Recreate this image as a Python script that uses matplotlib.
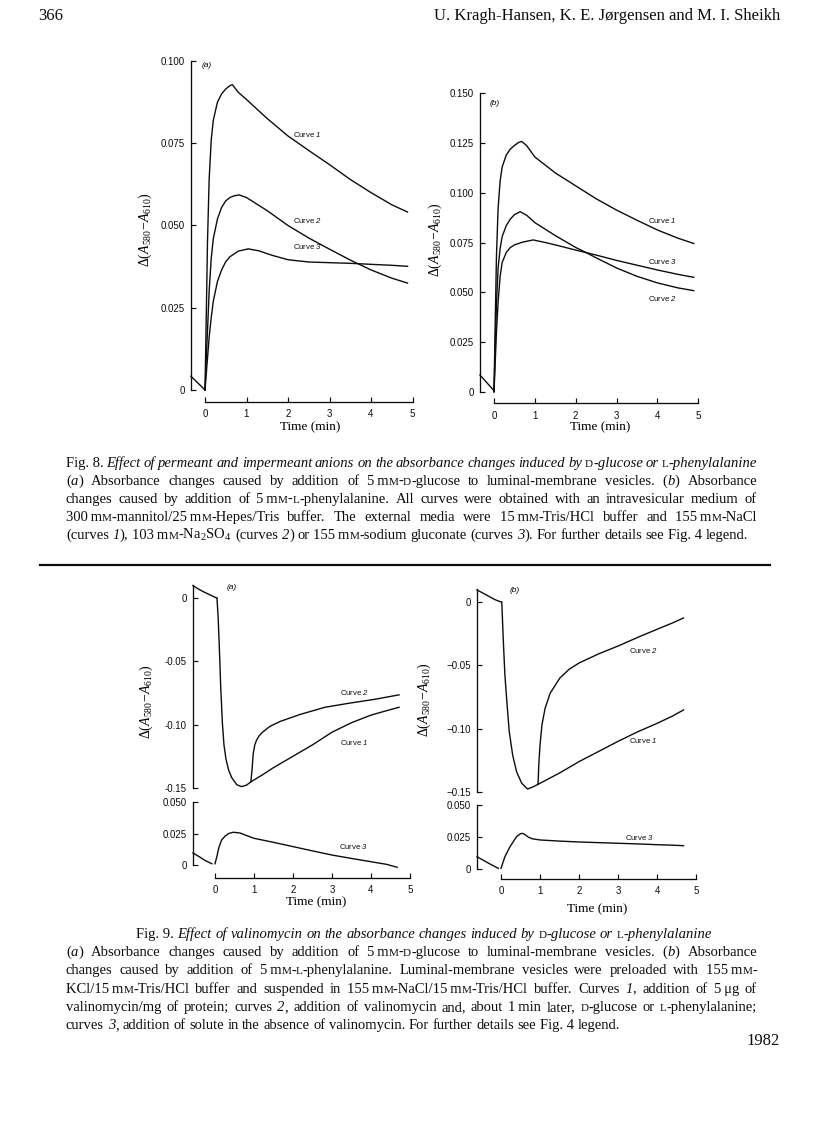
import matplotlib
matplotlib.use("Agg")
import matplotlib.pyplot as plt
from matplotlib.lines import Line2D

W, H = 816, 1136

plt.rcParams['font.family'] = 'Liberation Sans'
plt.rcParams['mathtext.fontset'] = 'custom'
plt.rcParams['mathtext.rm'] = 'Liberation Serif'
plt.rcParams['mathtext.it'] = 'Liberation Serif:italic'
plt.rcParams['mathtext.bf'] = 'Liberation Serif:bold'
plt.rcParams['mathtext.sf'] = 'Liberation Sans:italic'

# ---------------- Fig. 8 data (time in min, absorbance change) ----------------
f8a_pre_t = [-0.34, 0.0]
f8a_pre_v = [0.0042, 0.0]
f8a_c1_t = [0, 0.03, 0.06, 0.1, 0.15, 0.2, 0.3, 0.4, 0.5, 0.6, 0.66, 0.8, 1.0, 1.5, 2.0, 2.5, 3.0, 3.5, 4.0, 4.5, 4.88]
f8a_c1_v = [0, 0.022, 0.045, 0.064, 0.076, 0.082, 0.0875, 0.0900, 0.0915, 0.0925, 0.0928, 0.0905, 0.0883,
            0.0825, 0.0772, 0.0728, 0.0685, 0.0640, 0.0600, 0.0563, 0.0541]
f8a_c2_t = [0, 0.05, 0.1, 0.15, 0.2, 0.3, 0.4, 0.5, 0.6, 0.7, 0.82, 1.0, 1.5, 2.0, 2.5, 3.0, 3.5, 4.0, 4.5, 4.88]
f8a_c2_v = [0, 0.015, 0.03, 0.040, 0.046, 0.052, 0.0555, 0.0575, 0.0585, 0.059, 0.0593, 0.0585, 0.0545,
            0.0500, 0.0462, 0.0428, 0.0395, 0.0365, 0.0340, 0.0325]
f8a_c3_t = [0, 0.05, 0.1, 0.15, 0.2, 0.3, 0.4, 0.5, 0.6, 0.8, 1.04, 1.3, 1.6, 2.0, 2.5, 3.0, 3.5, 4.0, 4.5, 4.88]
f8a_c3_v = [0, 0.008, 0.016, 0.022, 0.027, 0.033, 0.0365, 0.039, 0.0405, 0.0422, 0.0429, 0.0423, 0.0410,
            0.0396, 0.0389, 0.0387, 0.0385, 0.0382, 0.0379, 0.0376]

f8b_pre_t = [-0.343, 0.0]
f8b_pre_v = [0.0084, 0.0005]
f8b_c1_t = [0, 0.03, 0.06, 0.1, 0.15, 0.2, 0.3, 0.4, 0.5, 0.6, 0.68, 0.8, 1.0, 1.5, 2.0, 2.5, 3.0, 3.5, 4.0, 4.5, 4.89]
f8b_c1_v = [0, 0.035, 0.068, 0.092, 0.106, 0.113, 0.119, 0.122, 0.1238, 0.1253, 0.1258, 0.1237, 0.1180,
            0.1100, 0.1035, 0.0970, 0.0913, 0.0862, 0.0813, 0.0772, 0.0745]
f8b_c2_t = [0, 0.03, 0.06, 0.1, 0.15, 0.2, 0.3, 0.4, 0.5, 0.64, 0.8, 1.0, 1.5, 2.0, 2.25, 2.5, 3.0, 3.5, 4.0, 4.5, 4.89]
f8b_c2_v = [0, 0.022, 0.044, 0.062, 0.072, 0.078, 0.0835, 0.0868, 0.0890, 0.0905, 0.0887, 0.0850, 0.0785,
            0.0725, 0.0700, 0.0673, 0.0622, 0.0580, 0.0547, 0.0522, 0.0508]
f8b_c3_t = [0, 0.03, 0.06, 0.1, 0.15, 0.2, 0.3, 0.4, 0.5, 0.7, 0.96, 1.3, 1.6, 2.0, 2.5, 3.0, 3.5, 4.0, 4.5, 4.89]
f8b_c3_v = [0, 0.015, 0.03, 0.045, 0.058, 0.065, 0.070, 0.0725, 0.0738, 0.0752, 0.0763, 0.0748, 0.0733,
            0.0712, 0.0687, 0.0660, 0.0636, 0.0612, 0.0590, 0.0575]

# ---------------- Fig. 9 data ----------------
f9a_pre_t = [-0.564, -0.45, -0.3, -0.15, 0.04]
f9a_pre_v = [0.0098, 0.0075, 0.0050, 0.0028, 0.0]
f9a_drop_t = [0.05, 0.08, 0.11, 0.146, 0.19, 0.23, 0.28, 0.35, 0.43, 0.56, 0.68, 0.81, 0.92]
f9a_drop_v = [0, -0.015, -0.038, -0.070, -0.099, -0.116, -0.127, -0.136, -0.142, -0.1475, -0.149, -0.1478, -0.1452]
f9a_c1_t = [0.92, 1.2, 1.5, 2.0, 2.5, 3.0, 3.5, 4.0, 4.4, 4.72]
f9a_c1_v = [-0.1452, -0.140, -0.134, -0.125, -0.116, -0.106, -0.0985, -0.0925, -0.089, -0.0863]
f9a_c2_t = [0.92, 0.95, 0.98, 1.02, 1.07, 1.13, 1.2, 1.3, 1.41, 1.67, 2.18, 2.82, 3.46, 4.1, 4.72]
f9a_c2_v = [-0.1452, -0.1355, -0.123, -0.116, -0.112, -0.109, -0.1065, -0.104, -0.1014, -0.0975,
            -0.092, -0.0863, -0.083, -0.080, -0.0765]
f9a_low_pre_t = [-0.564, -0.4, -0.25, -0.08]
f9a_low_pre_v = [0.0095, 0.0065, 0.0035, 0.001]
f9a_c3_t = [0.0, 0.05, 0.1, 0.17, 0.26, 0.35, 0.47, 0.64, 0.8, 1.0, 1.5, 2.0, 2.5, 3.0, 3.5, 4.0, 4.4, 4.67]
f9a_c3_v = [0.001, 0.007, 0.014, 0.0198, 0.023, 0.025, 0.026, 0.0254, 0.0235, 0.0212, 0.018, 0.0146,
            0.0112, 0.0079, 0.0052, 0.0026, 0.0005, -0.0018]

f9b_pre_t = [-0.615, -0.45, -0.3, -0.15, 0.0]
f9b_pre_v = [0.0095, 0.0068, 0.0043, 0.0018, 0.0]
f9b_drop_t = [0.02, 0.06, 0.1, 0.15, 0.21, 0.3, 0.4, 0.53, 0.68, 0.83, 0.95]
f9b_drop_v = [0, -0.031, -0.0576, -0.0787, -0.102, -0.121, -0.134, -0.143, -0.1476, -0.1458, -0.1439]
f9b_c1_t = [0.95, 1.5, 2.0, 2.5, 3.0, 3.5, 4.0, 4.4, 4.68]
f9b_c1_v = [-0.1439, -0.135, -0.126, -0.118, -0.110, -0.1025, -0.0958, -0.090, -0.0852]
f9b_c2_t = [0.95, 0.97, 1.0, 1.05, 1.13, 1.26, 1.51, 1.75, 2.01, 2.5, 3.02, 3.5, 4.02, 4.4, 4.68]
f9b_c2_v = [-0.1439, -0.128, -0.113, -0.097, -0.084, -0.072, -0.060, -0.053, -0.048, -0.041, -0.0345,
            -0.028, -0.0213, -0.0165, -0.0126]
f9b_low_pre_t = [-0.615, -0.45, -0.3, -0.15, -0.07]
f9b_low_pre_v = [0.0096, 0.0068, 0.0042, 0.0018, 0.0005]
f9b_c3_t = [0, 0.05, 0.1, 0.23, 0.4, 0.5, 0.56, 0.62, 0.7, 0.8, 1.0, 1.5, 2.0, 2.5, 3.0, 3.5, 4.0, 4.4, 4.68]
f9b_c3_v = [0.0005, 0.005, 0.0096, 0.0174, 0.0253, 0.0276, 0.0278, 0.0268, 0.0249, 0.0236, 0.0227, 0.0218,
            0.0211, 0.0206, 0.0201, 0.0196, 0.019, 0.0186, 0.0182]

# ticks
time_ticks = [0, 1, 2, 3, 4, 5]
f8a_yticks = [0, 0.025, 0.050, 0.075, 0.100]
f8a_ylabels = ['0', '0.025', '0.050', '0.075', '0.100']
f8b_yticks = [0, 0.025, 0.050, 0.075, 0.100, 0.125, 0.150]
f8b_ylabels = ['0', '0.025', '0.050', '0.075', '0.100', '0.125', '0.150']
f9_top_yticks = [0, -0.05, -0.10, -0.15]
f9a_top_ylabels = ['0', '-0.05', '-0.10', '-0.15']
f9b_top_ylabels = ['0', '\u22120.05', '\u22120.10', '\u22120.15']
f9_low_yticks = [0, 0.025, 0.050]
f9_low_ylabels = ['0', '0.025', '0.050']

# curve labels: (text, t, value)
f8a_names = [('Curve $\\mathsf{1}$', 2.13, 0.0777), ('Curve $\\mathsf{2}$', 2.13, 0.0516), ('Curve $\\mathsf{3}$', 2.13, 0.0437)]
f8b_names = [('Curve $\\mathsf{1}$', 3.77, 0.0863), ('Curve $\\mathsf{3}$', 3.77, 0.0654), ('Curve $\\mathsf{2}$', 3.77, 0.0469)]
f9a_top_names = [('Curve $\\mathsf{2}$', 3.2, -0.0743), ('Curve $\\mathsf{1}$', 3.2, -0.114)]
f9a_low_names = [('Curve $\\mathsf{3}$', 3.18, 0.0143)]
f9b_top_names = [('Curve $\\mathsf{2}$', 3.27, -0.0379), ('Curve $\\mathsf{1}$', 3.27, -0.1095)]
f9b_low_names = [('Curve $\\mathsf{3}$', 3.17, 0.025)]

ylab = r'$\Delta(A_{580}\!-\!A_{610})$'

# caption markup: *...* italic, ^...^ small capitals
cap8 = [
    "Fig.\u00a08. *Effect of permeant and impermeant anions on the absorbance changes induced by* ^D^*-glucose or* ^L^*-phenylalanine*",
    "(*a*) Absorbance changes caused by addition of 5\u2009m^M^-^D^-glucose to luminal-membrane vesicles. (*b*) Absorbance",
    "changes caused by addition of 5\u2009m^M^-^L^-phenylalanine. All curves were obtained with an intravesicular medium of",
    "300\u2009m^M^-mannitol/25\u2009m^M^-Hepes/Tris buffer. The external media were 15\u2009m^M^-Tris/HCl buffer and 155\u2009m^M^-NaCl",
    "(curves *1*), 103\u2009m^M^-Na$_2$SO$_4$ (curves *2*) or 155\u2009m^M^-sodium gluconate (curves *3*). For further details see Fig.\u00a04 legend.",
]
cap9 = [
    "Fig.\u00a09. *Effect of valinomycin on the absorbance changes induced by* ^D^*-glucose or* ^L^*-phenylalanine*",
    "(*a*) Absorbance changes caused by addition of 5\u2009m^M^-^D^-glucose to luminal-membrane vesicles. (*b*) Absorbance",
    "changes caused by addition of 5\u2009m^M^-^L^-phenylalanine. Luminal-membrane vesicles were preloaded with 155\u2009m^M^-",
    "KCl/15\u2009m^M^-Tris/HCl buffer and suspended in 155\u2009m^M^-NaCl/15\u2009m^M^-Tris/HCl buffer. Curves *1*, addition of 5\u2009\u03bcg of",
    "valinomycin/mg of protein; curves *2*, addition of valinomycin and, about 1\u2009min later, ^D^-glucose or ^L^-phenylalanine;",
    "curves *3*, addition of solute in the absence of valinomycin. For further details see Fig.\u00a04 legend.",
]

LW = 1.0
INK = '#0d0d0d'
CAP_FS = 10.5
SMALL = 0.76


def panel(fig, t0, ppm, v0, ppu, xlim, ylim):
    left = t0 + xlim[0] * ppm
    right = t0 + xlim[1] * ppm
    top = v0 - ylim[1] * ppu
    bot = v0 - ylim[0] * ppu
    ax = fig.add_axes([left / W, 1 - bot / H, (right - left) / W, (bot - top) / H])
    ax.set_xlim(xlim)
    ax.set_ylim(ylim)
    ax.patch.set_alpha(0)
    for s in ['top', 'right']:
        ax.spines[s].set_visible(False)
    for s in ['left', 'bottom']:
        ax.spines[s].set_linewidth(0.95)
        ax.spines[s].set_color(INK)
    ax.tick_params(direction='in', length=3.5, width=0.85, labelsize=7, colors=INK)
    ax.tick_params(axis='y', pad=4.3)
    ax.tick_params(axis='x', pad=5.2)
    return ax


def time_axis(ax, outward, xlab_px):
    ax.spines['bottom'].set_position(('outward', outward))
    ax.spines['bottom'].set_bounds(0, 5)
    ax.set_xticks(time_ticks)
    ax.set_xticklabels([str(t) for t in time_ticks])
    ax.set_xlabel('Time (min)', family='Liberation Serif', fontsize=9.5)
    ax.xaxis.set_label_coords(xlab_px[0] / W, 1 - xlab_px[1] / H, transform=fig.transFigure)
    ax.xaxis.label.set_va('center')


def no_time_axis(ax):
    ax.spines['bottom'].set_visible(False)
    ax.set_xticks([])


def y_label(ax, pos):
    ax.set_ylabel(ylab, fontsize=10)
    ax.yaxis.set_label_coords(pos[0] / W, 1 - pos[1] / H, transform=fig.transFigure)
    ax.yaxis.label.set_va('center')


def names(ax, lst):
    for txt, t, v in lst:
        ax.text(t, v, txt, fontsize=5.6, ha='left', va='center', color=INK)


def curve(ax, t, v):
    ax.plot(t, v, color=INK, lw=LW, clip_on=False, solid_joinstyle='round')


fig = plt.figure(figsize=(W / 100, H / 100), dpi=100)
fig.patch.set_facecolor('white')

# ---- Fig. 8 (a)
ax = panel(fig, 205, 41.5, 390, 3290, (-0.34, 5.0), (0, 0.100))
for t, v in [(f8a_pre_t, f8a_pre_v), (f8a_c1_t, f8a_c1_v), (f8a_c2_t, f8a_c2_v), (f8a_c3_t, f8a_c3_v)]:
    curve(ax, t, v)
ax.set_yticks(f8a_yticks)
ax.set_yticklabels(f8a_ylabels)
time_axis(ax, 8.4, (310, 427))
y_label(ax, (145, 230))
names(ax, f8a_names)
ax.text(-0.08, 0.0985, '(a)', fontsize=6, style='italic', ha='left', va='center')

# ---- Fig. 8 (b)
ax = panel(fig, 494, 40.86, 391.7, 1989, (-0.343, 5.0), (0, 0.150))
for t, v in [(f8b_pre_t, f8b_pre_v), (f8b_c1_t, f8b_c1_v), (f8b_c2_t, f8b_c2_v), (f8b_c3_t, f8b_c3_v)]:
    curve(ax, t, v)
ax.set_yticks(f8b_yticks)
ax.set_yticklabels(f8b_ylabels)
time_axis(ax, 8.35, (600, 427))
y_label(ax, (435, 240))
names(ax, f8b_names)
ax.text(-0.1, 0.145, '(b)', fontsize=6, style='italic', ha='left', va='center')

# ---- Fig. 9 (a)
ax = panel(fig, 215, 39, 598, 1266, (-0.564, 5.0), (-0.15, 0.0105))
for t, v in [(f9a_pre_t, f9a_pre_v), (f9a_drop_t, f9a_drop_v), (f9a_c1_t, f9a_c1_v), (f9a_c2_t, f9a_c2_v)]:
    curve(ax, t, v)
no_time_axis(ax)
ax.set_yticks(f9_top_yticks)
ax.set_yticklabels(f9a_top_ylabels)
y_label(ax, (146, 702))
names(ax, f9a_top_names)
ax.text(0.3, 0.0085, '(a)', fontsize=6, style='italic', ha='left', va='center')

ax = panel(fig, 215, 39, 865, 1260, (-0.564, 5.0), (0, 0.050))
for t, v in [(f9a_low_pre_t, f9a_low_pre_v), (f9a_c3_t, f9a_c3_v)]:
    curve(ax, t, v)
ax.set_yticks(f9_low_yticks)
ax.set_yticklabels(f9_low_ylabels)
ax.spines['left'].set_bounds(0, 0.05)
time_axis(ax, 9.4, (316, 902))
names(ax, f9a_low_names)

# ---- Fig. 9 (b)
ax = panel(fig, 501, 39, 602, 1267, (-0.615, 5.0), (-0.15, 0.0105))
for t, v in [(f9b_pre_t, f9b_pre_v), (f9b_drop_t, f9b_drop_v), (f9b_c1_t, f9b_c1_v), (f9b_c2_t, f9b_c2_v)]:
    curve(ax, t, v)
no_time_axis(ax)
ax.set_yticks(f9_top_yticks)
ax.set_yticklabels(f9b_top_ylabels)
y_label(ax, (424, 700))
names(ax, f9b_top_names)
ax.text(0.23, 0.0092, '(b)', fontsize=6, style='italic', ha='left', va='center')

ax = panel(fig, 501, 39, 869, 1280, (-0.615, 5.0), (0, 0.050))
for t, v in [(f9b_low_pre_t, f9b_low_pre_v), (f9b_c3_t, f9b_c3_v)]:
    curve(ax, t, v)
ax.set_yticks(f9_low_yticks)
ax.set_yticklabels(f9_low_ylabels)
time_axis(ax, 7.2, (597, 909))
names(ax, f9b_low_names)


# ---- page text
def parse_words(line):
    words, cur, buf = [], [], ''
    ital = small = False
    for ch in line:
        if ch in '*^':
            if buf:
                cur.append((buf, ital, small))
                buf = ''
            if ch == '*':
                ital = not ital
            else:
                small = not small
        elif ch == ' ':
            if buf:
                cur.append((buf, ital, small))
                buf = ''
            if cur:
                words.append(cur)
                cur = []
        else:
            buf += ch
    if buf:
        cur.append((buf, ital, small))
    if cur:
        words.append(cur)
    return words


renderer = fig.canvas.get_renderer()


def text_line(line, y, x0, x1, mode, center=None):
    words = parse_words(line)
    arts = []
    for w in words:
        arts.append([fig.text(0, 1 - y / H, s, fontsize=CAP_FS * (SMALL if sm else 1),
                              family=['Liberation Serif', 'DejaVu Serif'],
                              style='italic' if it else 'normal', va='baseline', ha='left', color=INK)
                     for s, it, sm in w])
    widths = [[a.get_window_extent(renderer).width for a in seg] for seg in arts]
    total = sum(sum(w) for w in widths)
    n = len(arts)
    gap = CAP_FS * 0.25 * 100 / 72
    if mode == 'justify' and n > 1:
        gap = (x1 - x0 - total) / (n - 1)
    x = x0
    if mode == 'center':
        x = center - (total + gap * (n - 1)) / 2
    for seg, ws in zip(arts, widths):
        for a, wd in zip(seg, ws):
            a.set_x(x / W)
            x += wd
        x += gap


fig.text(38 / W, 1 - 20 / H, '366', fontsize=12, family='Liberation Serif', va='baseline', color=INK)
fig.text(780 / W, 1 - 20 / H, 'U. Kragh-Hansen, K. E. J\u00f8rgensen and M. I. Sheikh', fontsize=12,
         family='Liberation Serif', va='baseline', ha='right', color=INK)

for i, line in enumerate(cap8):
    mode = 'justify' if i < len(cap8) - 1 else 'left'
    text_line(line, 467 + 18 * i, 66, 757, mode)

fig.add_artist(Line2D([40 / W, 770 / W], [1 - 565 / H, 1 - 565 / H], transform=fig.transFigure,
                      color=INK, lw=1.6))

for i, line in enumerate(cap9):
    if i == 0:
        mode = 'center'
    elif i == len(cap9) - 1:
        mode = 'left'
    else:
        mode = 'justify'
    text_line(line, 938 + 18.2 * i, 66, 757, mode, center=424)

fig.text(780 / W, 1 - 1045 / H, '1982', fontsize=12, family='Liberation Serif', va='baseline', ha='right', color=INK)

fig.savefig('out.png', dpi=100, facecolor='white')
